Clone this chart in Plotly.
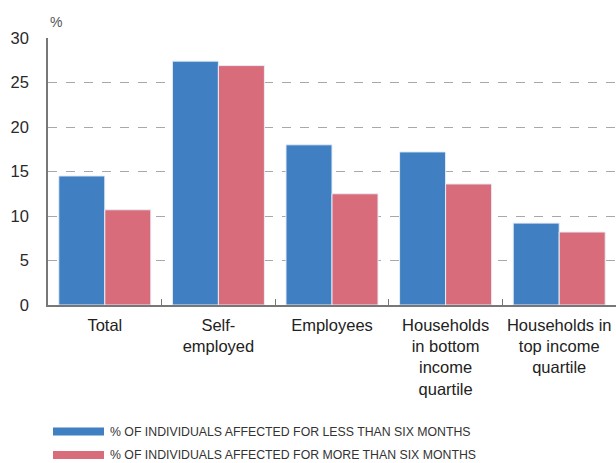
import plotly.graph_objects as go

categories = ["Total", "Self-<br>employed", "Employees",
              "Households<br>in bottom<br>income<br>quartile",
              "Households in<br>top income<br>quartile"]
less_than_six = [14.5, 27.4, 18.0, 17.2, 9.2]
more_than_six = [10.7, 26.9, 12.5, 13.6, 8.2]
series_names = ["% OF INDIVIDUALS AFFECTED FOR LESS THAN SIX MONTHS",
                "% OF INDIVIDUALS AFFECTED FOR MORE THAN SIX MONTHS"]
y_ticks = [0, 5, 10, 15, 20, 25, 30]

BLUE = "#3F7FC2"
RED = "#D86C7A"

fig = go.Figure()
for vals, col, name in [(less_than_six, BLUE, series_names[0]),
                        (more_than_six, RED, series_names[1])]:
    fig.add_trace(go.Bar(x=categories, y=vals, name=name,
                         marker=dict(color=col, line=dict(color="#E6EEF7", width=1)),
                         showlegend=False))

fig.update_layout(
    width=616, height=463,
    margin=dict(l=48, r=0, t=38, b=158),
    paper_bgcolor="white", plot_bgcolor="white",
    barmode="group", bargap=0.19, bargroupgap=0,
    font=dict(family="Liberation Sans, Arial, sans-serif", size=16, color="#333333"),
    xaxis=dict(range=[-0.5, 4.5], showline=True, linecolor="#777777", linewidth=1.5,
               ticks="inside", ticklen=6, tickcolor="#777777", tickson="boundaries",
               tickfont=dict(size=16.5, color="#222222"), ticklabelstandoff=4,
               showgrid=False, fixedrange=True),
    yaxis=dict(range=[0, 30], tickvals=y_ticks, showline=True, linecolor="#777777",
               linewidth=1.5, showgrid=True, gridcolor="#A8A8A8", griddash="dash",
               gridwidth=1, zeroline=False, ticks="", ticklabelstandoff=14,
               tickfont=dict(size=16.5, color="#2A2A2A"), fixedrange=True),
)

fig.add_annotation(text="%", xref="paper", yref="paper", x=0.0, y=1.0,
                   xshift=0, yshift=6, xanchor="left", yanchor="bottom",
                   showarrow=False, font=dict(size=14, color="#555555"))

# custom legend: wide colour swatches with captions
legend_rows = [(431.5, BLUE, series_names[0]),
               (455, RED, series_names[1])]
for ypix, col, name in legend_rows:
    fig.add_shape(type="rect", xref="paper", yref="paper",
                  x0=(53 - 48) / 568, x1=(104 - 48) / 568,
                  y0=(305 - ypix - 4) / 267, y1=(305 - ypix + 4) / 267,
                  fillcolor=col, line=dict(width=0))
    fig.add_annotation(text=name, xref="paper", yref="paper",
                       x=(108 - 48) / 568, y=(305 - ypix) / 267,
                       xanchor="left", yanchor="middle", showarrow=False,
                       font=dict(family="Liberation Sans, Arial, sans-serif",
                                 size=12.3, color="#333333"))

fig.write_html("out.html")
